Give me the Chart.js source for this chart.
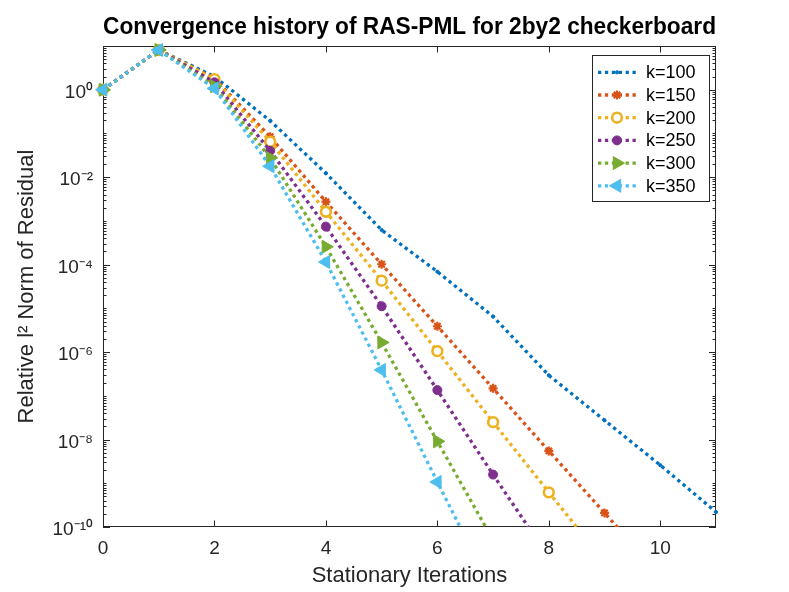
<!DOCTYPE html>
<html>
<head>
<meta charset="utf-8">
<script src="https://cdn.jsdelivr.net/npm/chart.js@4.4.1/dist/chart.umd.min.js"></script>
<style>
html,body{margin:0;padding:0;background:#ffffff;}
#wrap{width:789px;height:592px;position:relative;}
</style>
</head>
<body>
<div id="wrap"><canvas id="c" width="789" height="592"></canvas></div>
<script>
// ---------------- data ----------------
const iterations = [0, 1, 2, 3, 4, 5, 6, 7, 8, 9, 10, 11];
const seriesLabels = ['k=100', 'k=150', 'k=200', 'k=250', 'k=300', 'k=350'];
const res100 = [1, 8.1, 2.0, 0.195, 0.0123, 6.2e-4, 6.9e-5, 6.5e-6, 2.95e-7, 2.75e-8, 2.6e-9, 2.2e-10];
const res150 = [1, 8.1, 1.8, 0.084, 2.75e-3, 1.02e-4, 3.9e-6, 1.48e-7, 5.5e-9, 2.1e-10, 7.9e-12];
const res200 = [1, 8.1, 1.74, 0.065, 1.62e-3, 4.3e-5, 1.05e-6, 2.5e-8, 6.2e-10, 1.6e-11];
const res250 = [1, 8.1, 1.48, 0.040, 7.4e-4, 1.12e-5, 1.35e-7, 1.58e-9, 2.0e-11];
const res300 = [1, 8.1, 1.2, 0.0275, 2.57e-4, 1.66e-6, 9.1e-9, 5e-11];
const res350 = [1, 8.1, 1.07, 0.0178, 1.15e-4, 3.9e-7, 1.07e-9, 3.2e-12];
const xTickValues = [0, 2, 4, 6, 8, 10];
const yTickExponents = [-10, -8, -6, -4, -2, 0];
const titleText = 'Convergence history of RAS-PML for 2by2 checkerboard';
const xTitle = 'Stationary Iterations';
const yTitle = 'Relative l\u00B2 Norm of Residual';

// ---------------- styles ----------------
const FONT = "'Liberation Sans', Arial, Helvetica, sans-serif";
const AXIS_COLOR = '#262626';
const seriesStyles = [
  {color: '#0072BD', pointStyle: 'circle',   radius: 1.6, pbw: 1,   fill: true,  rot: 0},
  {color: '#D95319', pointStyle: 'star',     radius: 4.5, pbw: 2.2, fill: true,  rot: 0},
  {color: '#EDB120', pointStyle: 'circle',   radius: 4.9, pbw: 2.6, fill: false, rot: 0},
  {color: '#7E2F8E', pointStyle: 'circle',   radius: 4.5, pbw: 1,   fill: true,  rot: 0},
  {color: '#77AC30', pointStyle: 'triangle', radius: 7.5, pbw: 1,   fill: true,  rot: 90},
  {color: '#4DBEEE', pointStyle: 'triangle', radius: 7.5, pbw: 1,   fill: true,  rot: -90}
];
const allSeries = [res100, res150, res200, res250, res300, res350];
const LINE_W = 3.3;
const DASH = [3.3, 3.6];

const supMap = {'0':'\u2070','1':'\u00B9','2':'\u00B2','3':'\u00B3','4':'\u2074','5':'\u2075','6':'\u2076','7':'\u2077','8':'\u2078','9':'\u2079','-':'\u207B'};
function sup(n){ return String(n).split('').map(c => supMap[c] || c).join(''); }

const datasets = allSeries.map((vals, i) => {
  const s = seriesStyles[i];
  return {
    label: seriesLabels[i],
    data: vals.map((v, j) => ({x: iterations[j], y: v})),
    borderColor: s.color,
    backgroundColor: s.color,
    borderWidth: LINE_W,
    borderDash: DASH,
    borderCapStyle: 'butt',
    tension: 0,
    pointStyle: s.pointStyle,
    pointRadius: s.radius,
    pointRotation: s.rot,
    pointBorderWidth: s.pbw,
    pointBorderColor: s.color,
    pointBackgroundColor: s.fill ? s.color : '#ffffff',
    pointHoverRadius: s.radius,
    order: seriesStyles.length - i,
    clip: {left: 12, top: 12, right: 4, bottom: 0}
  };
});

// ---------------- plugins ----------------
const axesBoxPlugin = {
  id: 'axesBox',
  beforeDatasetsDraw(chart) {
    const ctx = chart.ctx;
    const {left, right, top, bottom} = chart.chartArea;
    const xs = chart.scales.x, ys = chart.scales.y;
    ctx.save();
    ctx.strokeStyle = AXIS_COLOR;
    ctx.lineWidth = 1;
    ctx.strokeRect(Math.round(left) + 0.5, Math.round(top) + 0.5, Math.round(right - left) - 1, Math.round(bottom - top) - 1);
    ctx.beginPath();
    xTickValues.forEach(v => {
      const px = Math.round(xs.getPixelForValue(v)) + 0.5;
      ctx.moveTo(px, bottom); ctx.lineTo(px, bottom - 6.5);
      ctx.moveTo(px, top); ctx.lineTo(px, top + 6.5);
    });
    for (let p = -10; p <= 0; p++) {
      for (let m = 1; m <= 9; m++) {
        const v = m * Math.pow(10, p);
        if (v < ys.min || v > ys.max) continue;
        const major = (m === 1 && yTickExponents.includes(p));
        const len = major ? 7 : 3.5;
        const py = Math.round(ys.getPixelForValue(v)) + 0.5;
        ctx.moveTo(left, py); ctx.lineTo(left + len, py);
        ctx.moveTo(right, py); ctx.lineTo(right - len, py);
      }
    }
    ctx.stroke();
    ctx.restore();
  }
};

const legendPlugin = {
  id: 'boxLegend',
  afterDatasetsDraw(chart) {
    const ctx = chart.ctx;
    const {right, top} = chart.chartArea;
    const w = 117, h = 146;
    const bx = right - 7 - w, by = top + 9;
    ctx.save();
    ctx.fillStyle = '#ffffff';
    ctx.fillRect(bx, by, w, h);
    ctx.strokeStyle = AXIS_COLOR;
    ctx.lineWidth = 1;
    ctx.strokeRect(Math.round(bx) + 0.5, Math.round(by) + 0.5, w, h);
    chart.data.datasets.forEach((ds, i) => {
      const s = seriesStyles[i];
      const cy = by + 17.3 + i * 22.7;
      ctx.save();
      ctx.strokeStyle = s.color;
      ctx.lineWidth = LINE_W;
      ctx.setLineDash(DASH);
      ctx.lineCap = 'butt';
      ctx.beginPath();
      ctx.moveTo(bx + 6, cy); ctx.lineTo(bx + 44, cy);
      ctx.stroke();
      ctx.setLineDash([]);
      ctx.fillStyle = s.fill ? s.color : '#ffffff';
      ctx.strokeStyle = s.color;
      ctx.lineWidth = s.pbw;
      Chart.helpers.drawPoint(ctx, {pointStyle: s.pointStyle, rotation: s.rot, radius: s.radius, borderWidth: s.pbw}, bx + 25, cy);
      ctx.restore();
      ctx.fillStyle = '#000000';
      ctx.font = '18px ' + FONT;
      ctx.textAlign = 'left';
      ctx.textBaseline = 'middle';
      ctx.fillText(ds.label, bx + 54, cy + 1);
    });
    ctx.restore();
  }
};

// ---------------- chart ----------------
new Chart(document.getElementById('c'), {
  type: 'line',
  data: {datasets},
  options: {
    responsive: false,
    animation: false,
    devicePixelRatio: 1,
    layout: {padding: {left: 0, right: 73, top: 0, bottom: 0}},
    plugins: {
      legend: {display: false},
      tooltip: {enabled: false},
      title: {
        display: true,
        text: titleText,
        fullSize: false,
        color: '#000000',
        font: {family: FONT, size: 23.5, weight: 'bold'},
        padding: {top: 13.9, bottom: 3.9}
      }
    },
    scales: {
      x: {
        type: 'linear',
        min: 0,
        max: 11,
        afterBuildTicks: (scale) => { scale.ticks = xTickValues.map(v => ({value: v})); },
        afterFit: (scale) => { scale.height = 65; },
        grid: {display: false, drawTicks: false},
        border: {display: false},
        ticks: {
          color: AXIS_COLOR,
          font: {family: FONT, size: 19},
          padding: 10,
          maxRotation: 0,
          autoSkip: false,
          callback: (v) => String(v)
        },
        title: {
          display: true,
          text: xTitle,
          color: AXIS_COLOR,
          font: {family: FONT, size: 22},
          padding: {top: 0, bottom: 3}
        }
      },
      y: {
        type: 'logarithmic',
        min: 1e-10,
        max: 10,
        afterBuildTicks: (scale) => { scale.ticks = yTickExponents.map(p => ({value: Math.pow(10, p)})); },
        afterFit: (scale) => { scale.width = 103; },
        grid: {display: false, drawTicks: false},
        border: {display: false},
        ticks: {
          color: AXIS_COLOR,
          font: {family: FONT, size: 19},
          padding: 10,
          labelOffset: 3,
          autoSkip: false,
          callback: (v) => '10' + sup(Math.round(Math.log10(v)))
        },
        title: {
          display: true,
          text: yTitle,
          color: AXIS_COLOR,
          font: {family: FONT, size: 22},
          padding: {top: 14, bottom: 0}
        }
      }
    }
  },
  plugins: [axesBoxPlugin, legendPlugin]
});
</script>
</body>
</html>
